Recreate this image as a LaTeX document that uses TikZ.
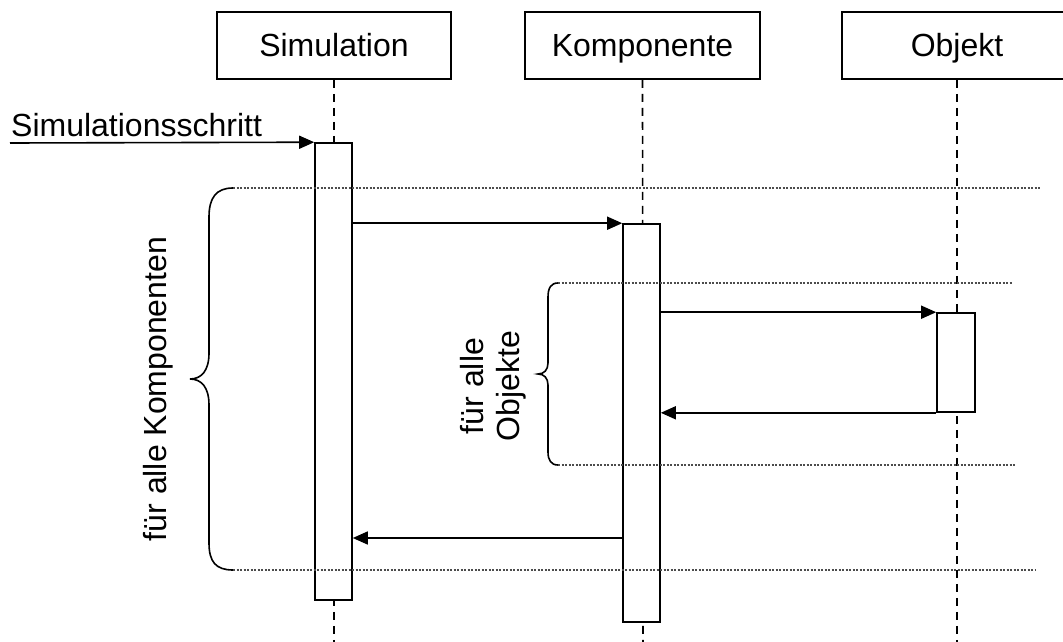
\documentclass[tikz,border=0pt]{standalone}
\usepackage{fontspec}
\setmainfont{Liberation Sans}
\usetikzlibrary{arrows.meta,calc}
\begin{document}
\begin{tikzpicture}[x=1pt,y=-1pt,
  every node/.style={font=\fontsize{32}{36}\selectfont},
  hbox/.style={draw, line width=1.6pt, minimum width=234pt, minimum height=67pt, inner sep=0pt, fill=white,
    text height=23pt, text depth=0pt},
  actbox/.style={draw, line width=1.6pt, fill=white, minimum width=37pt, inner sep=0pt},
  life/.style={line width=1.6pt, dash pattern=on 8pt off 6pt},
  msg/.style={line width=1.6pt, -{Triangle[length=15pt,width=13pt]}},
  frameline/.style={black!70, line width=1.2pt, dash pattern=on 2pt off 1.5pt},
  bracepath/.style={line width=1.6pt}]
\useasboundingbox (0,0) rectangle (1063,642);
\clip (0,0) rectangle (1063,642);
% header boxes
\node[hbox] (hsim) at (334,45.5) {Simulation};
\node[hbox, minimum width=235pt] (hkomp) at (642.5,45.5) {Komponente};
\node[hbox, minimum width=230pt] (hobj) at (957,45.5) {Objekt};
% lifelines
\coordinate (bsim) at (334,646);
\coordinate (bkomp) at (643,646);
\coordinate (bobj) at (957,646);
\draw[life] (hsim.south) -- (bsim);
\draw[life] (hkomp.south) -- (bkomp);
\draw[life] (hobj.south) -- (bobj);
% activation boxes
\node[actbox, minimum height=457pt] (asim) at (333.5,371.5) {};
\node[actbox, minimum height=398pt] (akomp) at (641.5,423) {};
\node[actbox, minimum width=38pt, minimum height=99pt] (aobj) at (956,362.5) {};
% messages
\coordinate (start) at (10,143);
\node[anchor=base west, inner sep=0pt] (steplabel) at (11,136) {Simulationsschritt};
\draw[msg] (start) -- (asim.north west);
\draw[msg] (asim.east |- akomp.north) -- (akomp.north west);
\draw[msg] (akomp.east |- aobj.north) -- (aobj.north west);
\draw[msg] (aobj.south west) -- (akomp.east |- aobj.south);
\coordinate (ret) at (623,538);
\draw[msg] (ret) -- (asim.east |- ret);
% braces
\draw[bracepath] (233,188) .. controls (216,188) and (209,198) .. (209,217) -- (209,353)
  .. controls (209,370) and (202,379) .. (190,379)
  .. controls (202,379) and (209,388) .. (209,405) -- (209,543)
  .. controls (209,562) and (216,570) .. (233,570);
\draw[bracepath] (558,283) .. controls (551,283) and (548,288) .. (548,297) -- (548,363)
  .. controls (548,370) and (544,374) .. (538,374)
  .. controls (544,374) and (548,378) .. (548,385) -- (548,452)
  .. controls (548,460) and (551,465) .. (558,465);
% frame lines
\coordinate (ot1) at (233,188); \coordinate (ot2) at (1040,188);
\coordinate (ob1) at (233,570); \coordinate (ob2) at (1035,570);
\coordinate (it1) at (558,283); \coordinate (it2) at (1012,283);
\coordinate (ib1) at (558,465); \coordinate (ib2) at (1015,465);
\draw[frameline] (ot1) -- (ot2);
\draw[frameline] (ob1) -- (ob2);
\draw[frameline] (it1) -- (it2);
\draw[frameline] (ib1) -- (ib2);
% labels
\node[rotate=90] (lblk) at (158,389) {für alle Komponenten};
\node[rotate=90, align=center] (lblo) at (493,386) {für alle\\Objekte};
\end{tikzpicture}
\end{document}
